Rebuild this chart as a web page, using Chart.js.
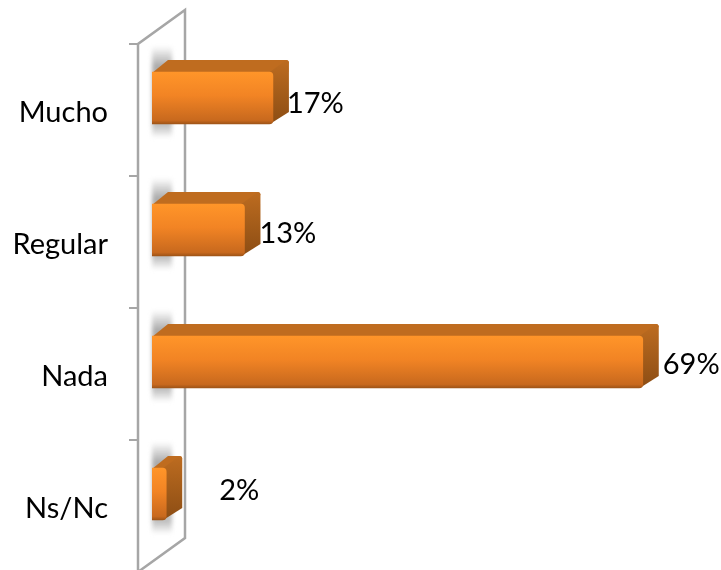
<!DOCTYPE html>
<html>
<head>
<meta charset="utf-8">
<style>
    html, body { margin: 0; background: #fff; }
    #wrap { width: 721px; height: 570px; }
</style>
<script src="https://cdn.jsdelivr.net/npm/chart.js@4"></script>
</head>
<body>
<div id="wrap"><canvas id="chart"></canvas></div>
<script>
const categories = ["Mucho", "Regular", "Nada", "Ns/Nc"];
const percents = [17, 13, 69, 2];

// Depth of the fake 3D boxes, in pixels
const depthX = 16;
const depthY = 12;
// Where each percent label sits relative to the end of its box
const labelShift = [[-2, 6], [-1, 4], [4, 3], [37, -3]];

const fontFamily = "Lato, 'Noto Sans', sans-serif";

function frontGradient(context) {
    const yScale = context.chart.scales.y;
    // Chart.js also resolves this once without a bar index
    if (!yScale || context.dataIndex === undefined) return "#e87f22";
    const mid = yScale.getPixelForValue(context.dataIndex);
    if (!isFinite(mid)) return "#e87f22";
    const g = context.chart.ctx.createLinearGradient(0, mid - 26, 0, mid + 26);
    g.addColorStop(0, "#ff9529");
    g.addColorStop(0.45, "#f28424");
    g.addColorStop(0.93, "#c8691e");
    g.addColorStop(1, "#9e5417");
    return g;
}

// Back wall of the axis, tick marks and the soft shadows on it
const wallPlugin = {
    id: "wall",
    beforeDatasetsDraw(chart) {
        const ctx = chart.ctx;
        const area = chart.chartArea;
        const x0 = area.left - 14;
        const x1 = area.left + 33;
        const top = area.top + 12;
        const bottom = area.bottom + 12;

        ctx.save();
        // shadows first so the wall lines stay on top
        ctx.filter = "blur(2px)";
        chart.getDatasetMeta(0).data.forEach(bar => {
            const t = bar.y - bar.height / 2 - 26;
            const b = bar.y + bar.height / 2 + 14;
            const g = ctx.createLinearGradient(0, t, 0, b);
            g.addColorStop(0, "rgba(170,170,170,0)");
            g.addColorStop(0.22, "rgba(170,170,170,1)");
            g.addColorStop(0.86, "rgba(190,190,190,1)");
            g.addColorStop(1, "rgba(190,190,190,0)");
            ctx.fillStyle = g;
            ctx.fillRect(area.left, t, 20, b - t);
        });
        ctx.filter = "none";

        ctx.strokeStyle = "#a6a6a6";
        ctx.lineWidth = 2.5;
        ctx.beginPath();
        ctx.moveTo(x0, bottom);
        ctx.lineTo(x0, top);
        ctx.lineTo(x1, top - 34);
        ctx.lineTo(x1, bottom - 34);
        ctx.lineTo(x0, bottom);
        ctx.stroke();

        // tick marks between the categories
        ctx.lineWidth = 2;
        ctx.beginPath();
        const band = (area.bottom - area.top) / categories.length;
        for (let i = 0; i < categories.length; i++) {
            const y = top + band * i;
            ctx.moveTo(x0 - 9, y);
            ctx.lineTo(x0, y);
        }
        ctx.stroke();

        // top and side faces of each box, the library draws the front over them
        chart.getDatasetMeta(0).data.forEach(bar => {
            const t = bar.y - bar.height / 2;
            const b = bar.y + bar.height / 2;
            const l = bar.base;
            const r = bar.x;

            ctx.fillStyle = "#bf6c1f";
            ctx.beginPath();
            ctx.moveTo(l, t + 1);
            ctx.lineTo(l + depthX, t - depthY);
            ctx.lineTo(r + depthX - 3, t - depthY);
            ctx.quadraticCurveTo(r + depthX, t - depthY, r + depthX, t - depthY + 3);
            ctx.lineTo(r, t + 2);
            ctx.closePath();
            ctx.fill();

            const side = ctx.createLinearGradient(0, t - depthY, 0, b);
            side.addColorStop(0, "#bd6c20");
            side.addColorStop(1, "#8c4d14");
            ctx.fillStyle = side;
            ctx.beginPath();
            ctx.moveTo(r - 3, t);
            ctx.lineTo(r + depthX - 3, t - depthY);
            ctx.quadraticCurveTo(r + depthX, t - depthY, r + depthX, t - depthY + 3);
            ctx.lineTo(r + depthX, b - depthY);
            ctx.lineTo(r - 3, b);
            ctx.closePath();
            ctx.fill();
        });
        ctx.restore();
    },
    afterDatasetsDraw(chart) {
        // percent labels beside the boxes
        const ctx = chart.ctx;
        ctx.save();
        ctx.font = "29px " + fontFamily;
        ctx.fillStyle = "#000";
        ctx.textAlign = "left";
        ctx.textBaseline = "middle";
        chart.getDatasetMeta(0).data.forEach((bar, i) => {
            const shift = labelShift[i];
            ctx.fillText(percents[i] + "%", bar.x + depthX + shift[0], bar.y + shift[1]);
        });
        ctx.restore();
    }
};

const ctx = document.getElementById("chart").getContext("2d");

const chart = new Chart(ctx, {
    type: "bar",
    data: {
        labels: categories,
        datasets: [{
            data: percents,
            backgroundColor: frontGradient,
            borderWidth: 0,
            borderRadius: 4,
            borderSkipped: "left",
            barThickness: 52
        }]
    },
    options: {
        indexAxis: "y",
        animation: false,
        responsive: true,
        maintainAspectRatio: false,
        layout: { padding: { top: 32, bottom: 10, left: 0, right: 0 } },
        plugins: {
            legend: { display: false },
            tooltip: { enabled: false }
        },
        scales: {
            x: {
                display: false,
                min: 0,
                max: 80
            },
            y: {
                // tick padding would otherwise also shrink the plot height
                afterFit(scale) {
                    scale.width = 152;
                    scale.paddingTop = 0;
                    scale.paddingBottom = 0;
                },
                grid: { display: false },
                border: { display: false },
                ticks: {
                    color: "#000",
                    padding: 36,
                    labelOffset: 15,
                    font: { family: fontFamily, size: 29 }
                }
            }
        }
    },
    plugins: [wallPlugin]
});
</script>
</body>
</html>
